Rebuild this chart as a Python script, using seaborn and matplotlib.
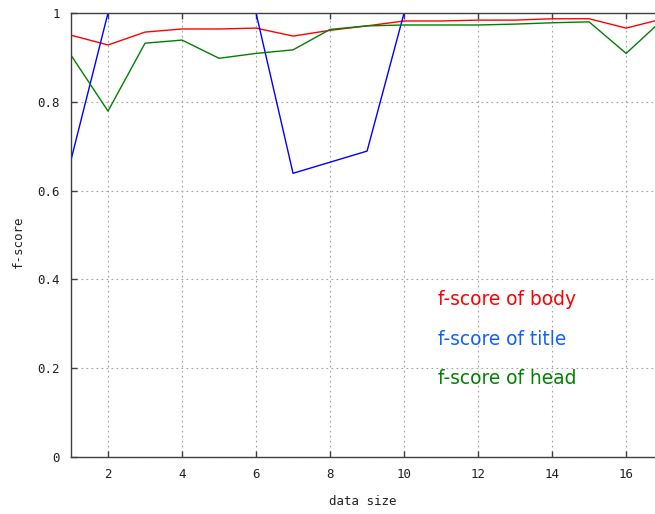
import numpy as np
import pandas as pd
import matplotlib
matplotlib.use("Agg")
import matplotlib.pyplot as plt
import seaborn as sns

# data sizes and f-scores per section
data_size = [1, 2, 3, 4, 5, 6, 7, 8, 9, 10, 11, 12, 13, 14, 15, 16, 17]
fscore_body = [0.950, 0.928, 0.957, 0.964, 0.964, 0.966, 0.948, 0.961, 0.971,
               0.982, 0.982, 0.984, 0.984, 0.987, 0.987, 0.966, 0.987]
fscore_title = [0.669, 1.0, 1.0, 1.0, 1.0, 1.0, 0.639, 0.664, 0.689,
                1.0, 1.0, 1.0, 1.0, 1.0, 1.0, 1.0, 1.0]
fscore_head = [0.905, 0.779, 0.932, 0.939, 0.898, 0.909, 0.917, 0.963, 0.971,
               0.973, 0.973, 0.973, 0.975, 0.978, 0.980, 0.909, 0.986]

series_names = ["f-score of body", "f-score of title", "f-score of head"]
line_colors = ["#ff0000", "#0000ff", "#008000"]
label_colors = ["#ff0000", "#1060ff", "#008000"]

df = pd.DataFrame({
    "data size": data_size * 3,
    "f-score": fscore_body + fscore_title + fscore_head,
    "series": np.repeat(series_names, len(data_size)),
})

sns.set_style("white")
plt.rcParams["font.family"] = ["DejaVu Sans Mono"]

fig = plt.figure(figsize=(6.55, 5.14), dpi=100)
ax = fig.add_axes([71 / 655, 1 - 457 / 514, 1 - 71 / 655, (457 - 13) / 514])

sns.lineplot(data=df, x="data size", y="f-score", hue="series",
             palette=dict(zip(series_names, line_colors)),
             hue_order=series_names, linewidth=1.0, legend=False, ax=ax)

ax.set_xlim(1, 16.78)
ax.set_ylim(0, 1)
ax.set_xticks([2, 4, 6, 8, 10, 12, 14, 16])
ax.set_yticks([0, 0.2, 0.4, 0.6, 0.8, 1])
ax.set_yticklabels(["0", "0.2", "0.4", "0.6", "0.8", "1"])
ax.grid(True, color="#a0a0a0", linestyle=(0, (1.5, 3)), linewidth=0.8)
ax.tick_params(direction="in", length=4, width=1, color="#404040",
               labelsize=9, labelcolor="#202020", pad=8,
               top=True, bottom=True, left=True, right=False)
for side in ["left", "bottom", "top"]:
    ax.spines[side].set_color("#404040")
    ax.spines[side].set_linewidth(1.0)
    ax.spines[side].set_zorder(5)
ax.spines["right"].set_visible(False)

ax.set_xlabel("data size", fontsize=9, color="#202020", labelpad=10)
ax.set_ylabel("f-score", fontsize=9, color="#202020")
ax.yaxis.set_label_coords(-0.079, 0.485)

# series labels placed inside the plot area
label_y = [0.354, 0.264, 0.176]
for name, col, yv in zip(series_names, label_colors, label_y):
    ax.text(10.92, yv, name, color=col, fontsize=13.4, va="center", ha="left",
            family=["DejaVu Sans"])

fig.savefig("out.png", dpi=100)
